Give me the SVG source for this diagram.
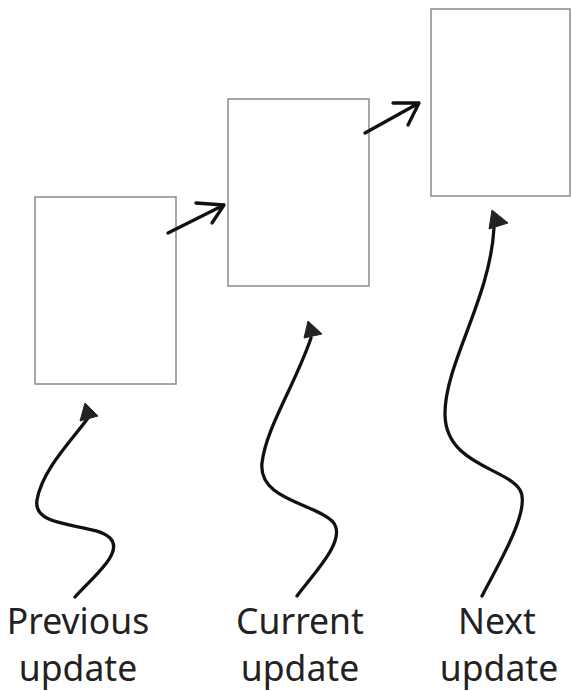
<svg xmlns="http://www.w3.org/2000/svg" width="571" height="691" viewBox="0 0 571 691">
<style>
.box{fill:#fff;stroke:#8a8a8a;stroke-width:1.5}
.line{fill:none;stroke:#111;stroke-width:3.3;stroke-linecap:round;stroke-linejoin:round}
.head{fill:#222;stroke:#222;stroke-width:1;stroke-linejoin:round}
.lbl{font-family:"Noto Sans","Open Sans",sans-serif;font-size:35.5px;fill:#222;text-anchor:middle}
</style>
<rect width="571" height="691" fill="#fff"/>
<g id="prev-box"><rect class="box" x="35" y="197" width="141" height="187"/></g>
<g id="curr-box"><rect class="box" x="228" y="99" width="141" height="187"/></g>
<g id="next-box"><rect class="box" x="431" y="9" width="139" height="187"/></g>
<g id="connectors">
<path class="line" d="M168,233 L224,205 M196,203 L224,205 L212,223"/>
<path class="line" d="M365,133 L419,103 M393,103 L419,103 L408,125"/>
<path class="line" d="M75,597 C95,575 124,552 110,538 C94,522 32,530 37,500 C42,470 72,440 88,418"/>
<polygon class="head" points="85,403 98,416 80,421"/>
<path class="line" d="M297,596 C312,575 348,540 333,522 C315,503 258,500 262,463 C266,428 295,385 311,338"/>
<polygon class="head" points="308,321 322,334 304,338"/>
<path class="line" d="M482,596 C495,570 532,510 520,490 C507,468 446,465 445,415 C444,365 490,300 494,228"/>
<polygon class="head" points="492,210 508,223 489,229"/>
</g>
<g id="label-prev"><text class="lbl" x="78" y="634">Previous</text><text class="lbl" x="78" y="681">update</text></g>
<g id="label-curr"><text class="lbl" x="300" y="634">Current</text><text class="lbl" x="300" y="681">update</text></g>
<g id="label-next"><text class="lbl" x="497" y="634">Next</text><text class="lbl" x="499" y="681">update</text></g>
</svg>
